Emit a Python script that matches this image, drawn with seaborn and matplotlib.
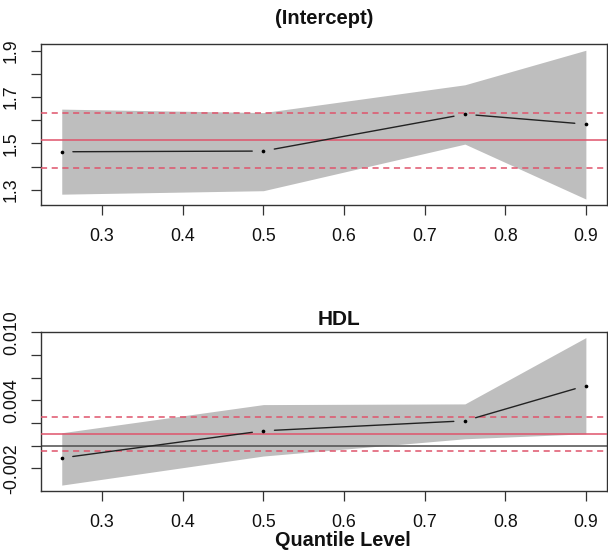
import numpy as np
import matplotlib
matplotlib.use("Agg")
import matplotlib.pyplot as plt
import seaborn as sns

# quantile levels
taus = [0.25, 0.5, 0.75, 0.9]

# (Intercept) panel
int_coef = [1.464, 1.467, 1.626, 1.583]
int_lo = [1.281, 1.296, 1.497, 1.260]
int_hi = [1.648, 1.633, 1.753, 1.902]
int_ols = [1.513, 1.392, 1.633]   # estimate, lower, upper

# HDL panel
hdl_coef = [-0.00108, 0.00131, 0.00219, 0.00529]
hdl_lo = [-0.00347, -0.00091, 0.00061, 0.00105]
hdl_hi = [0.00114, 0.00362, 0.00368, 0.00952]
hdl_ols = [0.00105, -0.0005, 0.00257]

x_ticks = [0.3, 0.4, 0.5, 0.6, 0.7, 0.8, 0.9]
int_yticks = [1.3, 1.4, 1.5, 1.6, 1.7, 1.8, 1.9]
int_ylabels = ["1.3", "", "1.5", "", "1.7", "", "1.9"]
hdl_yticks = [-0.002, 0.0, 0.002, 0.004, 0.006, 0.008, 0.010]
hdl_ylabels = ["-0.002", "", "", "0.004", "", "", "0.010"]

sns.set_style("white")
plt.rcParams["font.family"] = ["Liberation Sans", "DejaVu Sans"]

RED = "#DF536B"
GREY = "#BEBEBE"

fig = plt.figure(figsize=(6.08, 5.53), dpi=100)
ax1 = fig.add_axes([0.0671, 0.6293, 0.931, 0.2906])
ax2 = fig.add_axes([0.0671, 0.1121, 0.931, 0.2881])


def panel(ax, coef, lo, hi, ols, yticks, ylabels, zero_line):
    ax.fill_between(taus, lo, hi, color=GREY, linewidth=0, zorder=1)
    if zero_line:
        ax.axhline(0, color="#4d4d4d", lw=1.1, zorder=2)
    ax.axhline(ols[0], color=RED, lw=1.1, zorder=3)
    ax.axhline(ols[1], color=RED, lw=1.1, ls=(0, (4, 3)), zorder=3)
    ax.axhline(ols[2], color=RED, lw=1.1, ls=(0, (4, 3)), zorder=3)
    # type="b" style: segments with gaps round the points
    for i in range(len(taus) - 1):
        ax.annotate("", xy=(taus[i + 1], coef[i + 1]), xytext=(taus[i], coef[i]),
                    arrowprops=dict(arrowstyle="-", color="#222222", lw=1.0,
                                    shrinkA=8, shrinkB=8), zorder=4)
    sns.scatterplot(x=taus, y=coef, ax=ax, color="black", s=7,
                    edgecolor="black", linewidth=0, zorder=5)

    span = max(hi) - min(lo)
    ax.set_xlim(0.25 - 0.026, 0.9 + 0.026)
    ax.set_ylim(min(lo) - 0.04 * span, max(hi) + 0.04 * span)
    ax.set_xticks(x_ticks)
    ax.set_xticklabels([f"{t:.1f}" for t in x_ticks])
    ax.set_yticks(yticks)
    ax.set_yticklabels(ylabels, rotation=90, va="center")
    ax.tick_params(axis="both", direction="out", length=7.2, width=0.9,
                   bottom=True, left=True,
                   color="#333333", labelsize=12.8, labelcolor="#111111")
    ax.tick_params(axis="x", pad=9.5)
    ax.tick_params(axis="y", pad=7.8)
    for sp in ax.spines.values():
        sp.set_visible(True)
        sp.set_color("#333333")
        sp.set_linewidth(1.0)


panel(ax1, int_coef, int_lo, int_hi, int_ols, int_yticks, int_ylabels, False)
panel(ax2, hdl_coef, hdl_lo, hdl_hi, hdl_ols, hdl_yticks, hdl_ylabels, True)

ax1.set_title("(Intercept)", fontsize=14.5, fontweight="bold", pad=14.4,
              color="#111111")
ax2.set_title("HDL", fontsize=15, fontweight="bold", pad=4.8,
              color="#111111", x=0.527)

ax2.set_xlabel("Quantile Level", fontsize=14.3, fontweight="bold",
               color="#111111", va="baseline")
ax2.xaxis.set_label_coords(0.534, -0.345)

fig.savefig("out.png", dpi=100, facecolor="white")
